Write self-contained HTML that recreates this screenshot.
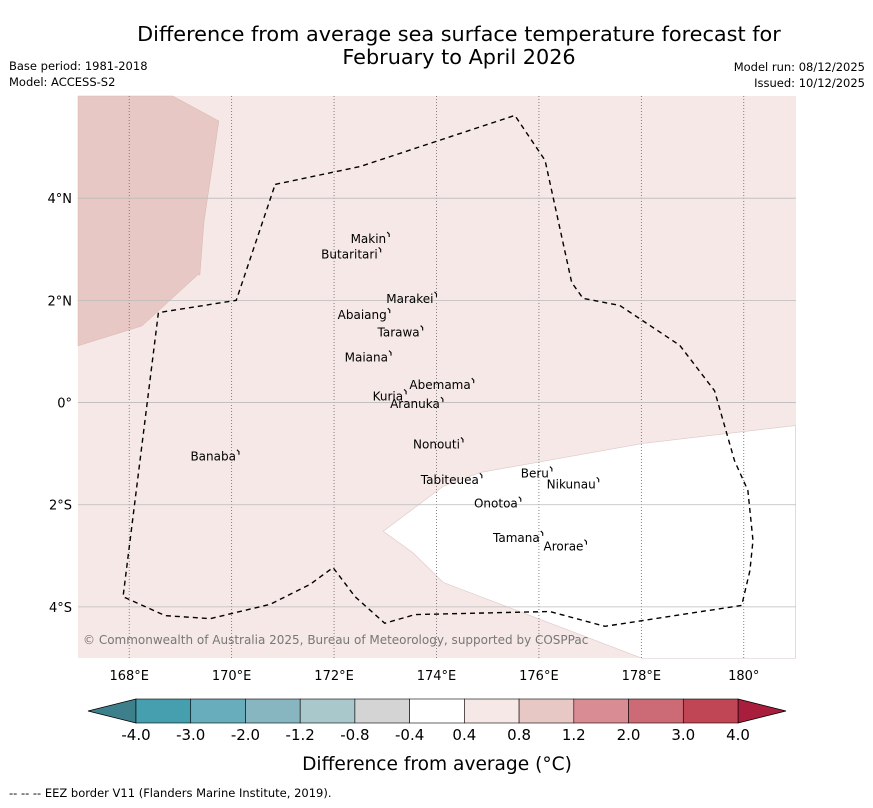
<!DOCTYPE html>
<html><head><meta charset="utf-8">
<style>
body{margin:0;background:#fff;font-family:"DejaVu Sans","Liberation Sans",sans-serif;}
</style></head>
<body>
<svg id="chart" width="873" height="804" xmlns="http://www.w3.org/2000/svg" font-family="DejaVu Sans, Liberation Sans, sans-serif">
<text x="459" y="41" font-size="20.8" text-anchor="middle">Difference from average sea surface temperature forecast for</text>
<text x="459" y="64" font-size="20.8" text-anchor="middle">February to April 2026</text>
<text x="9" y="70" font-size="11.5">Base period: 1981-2018</text>
<text x="9" y="86" font-size="11.5">Model: ACCESS-S2</text>
<text x="865" y="71" font-size="11.5" text-anchor="end">Model run: 08/12/2025</text>
<text x="865" y="87" font-size="11.5" text-anchor="end">Issued: 10/12/2025</text>
<g id="map"></g>
<g id="cbar"></g>
<text x="437" y="770" font-size="18.6" text-anchor="middle">Difference from average (°C)</text>
<text x="9" y="797" font-size="11.5">--  --  -- EEZ border V11 (Flanders Marine Institute, 2019).</text>
</svg>
<script>
const lonTicks=[168,170,172,174,176,178,180];
const lonLabels=["168°E","170°E","172°E","174°E","176°E","178°E","180°"];
const latTicks=[4,2,0,-2,-4];
const latLabels=["4°N","2°N","0°","2°S","4°S"];
const eezLon=[170.85,172.51,175.53,176.12,176.64,176.86,177.58,178.75,179.43,179.82,180.08,180.18,180.12,179.96,177.29,176.21,173.58,172.99,172.41,171.98,171.53,170.75,169.58,168.70,167.88,168.57,170.09,170.85];
const eezLat=[4.27,4.62,5.62,4.74,2.35,2.04,1.90,1.12,0.23,-1.14,-1.72,-2.70,-3.29,-3.97,-4.38,-4.09,-4.15,-4.32,-3.80,-3.23,-3.56,-3.95,-4.23,-4.17,-3.80,1.76,2.00,4.27];
const warmLon=[167,168.85,169.75,169.61,169.46,169.38,169.34,168.25,167];
const warmLat=[6.0,6.0,5.51,4.55,3.54,2.5,2.5,1.5,1.11];
const coolLon=[181.01,178.03,174.85,174.13,172.96,173.54,174.13,178.03,181.01];
const coolLat=[-0.45,-0.80,-1.37,-1.64,-2.52,-2.94,-3.52,-5.01,-5.01];
const islands=["Makin","Butaritari","Marakei","Abaiang","Tarawa","Maiana","Abemama","Kuria","Aranuka","Nonouti","Banaba","Beru","Nikunau","Tabiteuea","Onotoa","Tamana","Arorae"];
const isLon=[172.67,172.30,173.48,172.55,173.26,172.63,174.07,173.05,173.58,174.00,169.64,175.92,176.63,174.26,175.16,175.56,176.48];
const isLat=[3.2,2.9,2.03,1.71,1.37,0.88,0.34,0.12,-0.03,-0.82,-1.06,-1.39,-1.60,-1.52,-1.98,-2.65,-2.82];
const cbBounds=["-4.0","-3.0","-2.0","-1.2","-0.8","-0.4","0.4","0.8","1.2","2.0","3.0","4.0"];
const cbColors=["#459fae","#68adbb","#87b6c1","#a8c8cc","#d4d4d4","#ffffff","#f5e8e6","#e8c8c4","#d98c94","#cc6a75","#c04656"];

const X0=78,X1=796,Y0=96,Y1=658;
const lonMin=167,lonMax=181.02,latMax=6.0,latMin=-5.0;
const xs=l=>X0+(l-lonMin)/(lonMax-lonMin)*(X1-X0);
const ys=l=>Y0+(latMax-l)/(latMax-latMin)*(Y1-Y0);
const NS="http://www.w3.org/2000/svg";
function mk(p,t,a){const e=document.createElementNS(NS,t);for(const k in a)e.setAttribute(k,a[k]);p.appendChild(e);return e;}
const map=document.getElementById('map');
const bg=mk(map,'rect',{x:X0,y:Y0,width:X1-X0,height:Y1-Y0,fill:'#f5e8e6'});


const warm=mk(map,'polygon',{points:warmLon.map((l,i)=>xs(l)+','+ys(warmLat[i])).join(' '),fill:'#e8c8c4',stroke:'#d9b5b0','stroke-width':0.5});


const cool=mk(map,'polygon',{points:coolLon.map((l,i)=>xs(l)+','+ys(coolLat[i])).join(' '),fill:'#ffffff',stroke:'#dcc8c8','stroke-width':0.6});


lonTicks.forEach((l,i)=>{
 const g=mk(map,'line',{x1:xs(l),x2:xs(l),y1:Y0,y2:Y1,stroke:'#666','stroke-width':0.8,'stroke-dasharray':'1,2'});
 
 
 const t=mk(map,'text',{x:xs(l),y:Y1+22,'font-size':13,'text-anchor':'middle'});t.textContent=lonLabels[i];
 
 
});
latTicks.forEach((l,i)=>{
 const g=mk(map,'line',{x1:X0,x2:X1,y1:ys(l),y2:ys(l),stroke:'#bbb','stroke-width':0.8});
 
 
 const t=mk(map,'text',{x:X0-6,y:ys(l)+5,'font-size':13,'text-anchor':'end'});t.textContent=latLabels[i];
 
 
});
const eez=mk(map,'polyline',{points:eezLon.map((l,i)=>xs(l)+','+ys(eezLat[i])).join(' '),fill:'none',stroke:'#000','stroke-width':1.4,'stroke-dasharray':'5,4'});


islands.forEach((n,i)=>{
 const px=xs(isLon[i]),py=ys(isLat[i]);
 const t=mk(map,'text',{x:px,y:py+4,'font-size':12,'text-anchor':'middle'});t.textContent=n;
 
 
 const w=t.getComputedTextLength?t.getComputedTextLength():40;
 const mx=px+w/2+2;
 const m=mk(map,'path',{d:`M${mx-1},${py-7} l2,2 l0,3`,stroke:'#000','stroke-width':1.1,fill:'none'});
 
 
});
const cr=mk(map,'text',{x:83,y:644,'font-size':12,fill:'#777'});cr.textContent="© Commonwealth of Australia 2025, Bureau of Meteorology, supported by COSPPac";



const cb=document.getElementById('cbar');
const CB0=136,CB1=738,CY=699,CH=24,w=(CB1-CB0)/cbColors.length;
const la=mk(cb,'polygon',{points:`${CB0},${CY} 88,${CY+CH/2} ${CB0},${CY+CH}`,fill:'#3d7f8b',stroke:'#000','stroke-width':0.8});


const ra=mk(cb,'polygon',{points:`${CB1},${CY} 786,${CY+CH/2} ${CB1},${CY+CH}`,fill:'#a81e3c',stroke:'#000','stroke-width':0.8});


cbColors.forEach((c,i)=>{
 const r=mk(cb,'rect',{x:CB0+i*w,y:CY,width:w,height:CH,fill:c,stroke:'#000','stroke-width':0.6});
 
 
});
cbBounds.forEach((b,i)=>{
 const t=mk(cb,'text',{x:CB0+i*w,y:CY+CH+17,'font-size':15,'text-anchor':'middle'});t.textContent=b;
 
 
});
</script>
</body></html>
